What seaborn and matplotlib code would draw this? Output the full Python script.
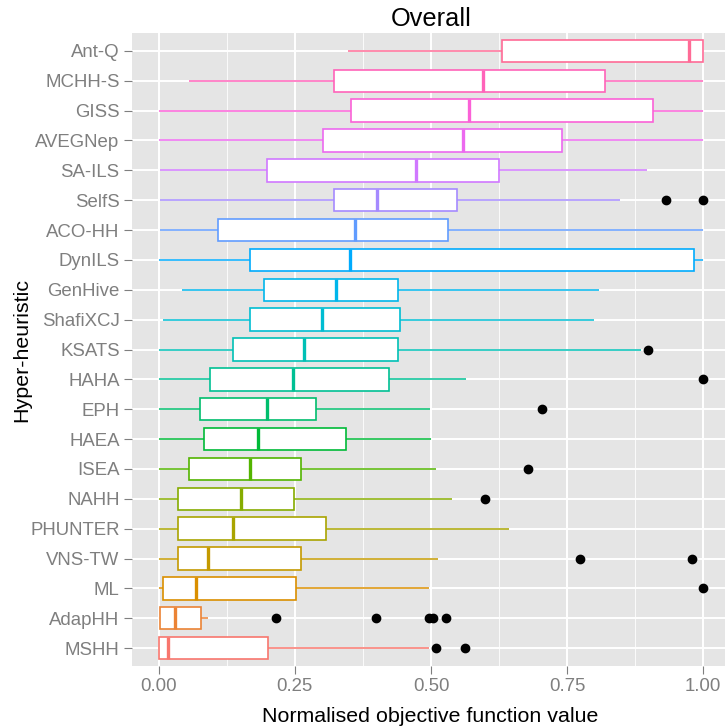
import numpy as np
import pandas as pd
import matplotlib
matplotlib.use("Agg")
import matplotlib.pyplot as plt
from matplotlib.ticker import MultipleLocator, FixedLocator, StrMethodFormatter
import seaborn as sns

# Hyper-heuristics in factor-level order (first level sits at the bottom)
heuristics = ["MSHH", "AdapHH", "ML", "VNS-TW", "PHUNTER", "NAHH", "ISEA", "HAEA",
              "EPH", "HAHA", "KSATS", "ShafiXCJ", "GenHive", "DynILS", "ACO-HH",
              "SelfS", "SA-ILS", "AVEGNep", "GISS", "MCHH-S", "Ant-Q"]

# Box summaries of the normalised objective function value
whisker_low = [0.000, 0.002, 0.000, 0.000, 0.000, 0.000, 0.000, 0.000, 0.000, 0.000,
               0.000, 0.0085, 0.043, 0.000, 0.003, 0.003, 0.003, 0.000, 0.000, 0.056, 0.348]
lower_quartile = [0.000, 0.002, 0.0073, 0.0354, 0.0354, 0.0354, 0.055, 0.083, 0.0758, 0.0935,
                  0.137, 0.168, 0.193, 0.168, 0.109, 0.322, 0.198, 0.302, 0.353, 0.322, 0.631]
median = [0.017, 0.030, 0.068, 0.091, 0.1364, 0.152, 0.167, 0.182, 0.198, 0.247,
          0.267, 0.300, 0.326, 0.351, 0.361, 0.401, 0.473, 0.559, 0.569, 0.595, 0.974]
upper_quartile = [0.2005, 0.078, 0.2515, 0.262, 0.307, 0.249, 0.262, 0.344, 0.289, 0.422,
                  0.440, 0.4425, 0.440, 0.983, 0.532, 0.547, 0.624, 0.741, 0.908, 0.820, 1.000]
whisker_high = [0.496, 0.0905, 0.4963, 0.513, 0.644, 0.5386, 0.510, 0.500, 0.499, 0.564,
                0.885, 0.799, 0.809, 1.000, 1.000, 0.847, 0.896, 1.000, 1.000, 1.000, 1.000]
outliers = [[0.510, 0.562], [0.216, 0.399, 0.497, 0.504, 0.527], [1.0], [0.774, 0.980], [],
            [0.600], [0.679], [], [0.703], [1.0], [0.898], [], [], [], [], [0.932, 1.0],
            [], [], [], [], []]

x_ticks = [0.00, 0.25, 0.50, 0.75, 1.00]


def hcl_hex(h, c=100.0, l=65.0):
    """Polar LUV (HCL) colour to an sRGB hex string, as used by ggplot's hue palette."""
    hr = np.deg2rad(h)
    u, v = c * np.cos(hr), c * np.sin(hr)
    xn, yn, zn = 95.047, 100.0, 108.883
    y = yn * ((l + 16) / 116) ** 3
    den = xn + 15 * yn + 3 * zn
    un, vn = 4 * xn / den, 9 * yn / den
    up, vp = u / (13 * l) + un, v / (13 * l) + vn
    x = y * 9 * up / (4 * vp)
    z = y * (12 - 3 * up - 20 * vp) / (4 * vp)
    m = np.array([[3.2404542, -1.5371385, -0.4985314],
                  [-0.9692660, 1.8760108, 0.0415560],
                  [0.0556434, -0.2040259, 1.0572252]])
    rgb = m @ (np.array([x, y, z]) / 100.0)
    rgb = np.where(rgb <= 0.0031308, 12.92 * rgb, 1.055 * np.clip(rgb, 0, None) ** (1 / 2.4) - 0.055)
    rgb = np.clip(rgb, 0, 1)
    return "#" + "".join(f"{int(round(ch * 255)):02X}" for ch in rgb)


n = len(heuristics)
hues = 15 + np.arange(n) * 360.0 / n
palette = {name: hcl_hex(h) for name, h in zip(heuristics, hues)}

# Expand each box summary into a sample whose quartiles and whiskers reproduce it
rows = []
for i, name in enumerate(heuristics):
    vals = ([whisker_low[i]] + [lower_quartile[i]] * 40 + [median[i]] * 20
            + [upper_quartile[i]] * 40 + [whisker_high[i]] + list(outliers[i]))
    rows += [(name, v) for v in vals]
df = pd.DataFrame(rows, columns=["heuristic", "value"])

sns.set_theme(style="white")
plt.rcParams["font.family"] = ["Liberation Sans", "DejaVu Sans"]
plt.rcParams["axes.axisbelow"] = True

fig = plt.figure(figsize=(7.25, 7.27), dpi=100)
ax = fig.add_axes([131.5 / 725, 61 / 727, 599 / 725, 633 / 727])
ax.set_facecolor("#E5E5E5")

y_order = heuristics[::-1]
for name in heuristics:
    col = palette[name]
    sns.boxplot(data=df[df["heuristic"] == name], x="value", y="heuristic",
                order=y_order, color="white", saturation=1, linecolor=col,
                width=0.75, whis=1.5, linewidth=1.2, ax=ax,
                boxprops=dict(facecolor="white", edgecolor=col, linewidth=1.2),
                medianprops=dict(color=col, linewidth=2.4, solid_capstyle="butt"),
                whiskerprops=dict(color=col, linewidth=1.1, solid_capstyle="butt"),
                capprops=dict(linewidth=0),
                flierprops=dict(marker="o", markersize=6, markerfacecolor="black",
                                markeredgecolor="black", linestyle="none"))

ax.set_xlim(-0.05, 1.05)
ax.set_ylim(n - 1 + 0.6, -0.6)
ax.xaxis.set_major_locator(FixedLocator(x_ticks))
ax.xaxis.set_major_formatter(StrMethodFormatter("{x:.2f}"))
ax.xaxis.set_minor_locator(MultipleLocator(0.125))

ax.grid(True, which="major", axis="both", color="white", linewidth=1.4)
ax.grid(True, which="minor", axis="x", color="white", linewidth=0.6)
for s in ax.spines.values():
    s.set_visible(False)

ax.tick_params(axis="both", which="major", length=5.5, width=0.8, color="#7F7F7F",
               labelcolor="#7F7F7F", labelsize=13.4, pad=3, direction="out",
               bottom=True, left=True)
ax.tick_params(axis="x", which="minor", length=0)

ax.set_title("Overall", fontsize=18.3, color="black", pad=5)
ax.set_xlabel("Normalised objective function value", fontsize=15.4, color="black")
ax.set_ylabel("Hyper-heuristic", fontsize=15.4, color="black")
ax.xaxis.set_label_coords((430.5 - 131.5) / 599, (666 - 707) / 633)
ax.yaxis.set_label_coords((31 - 131.5) / 599, 0.5)

fig.savefig("out.png", dpi=100)
